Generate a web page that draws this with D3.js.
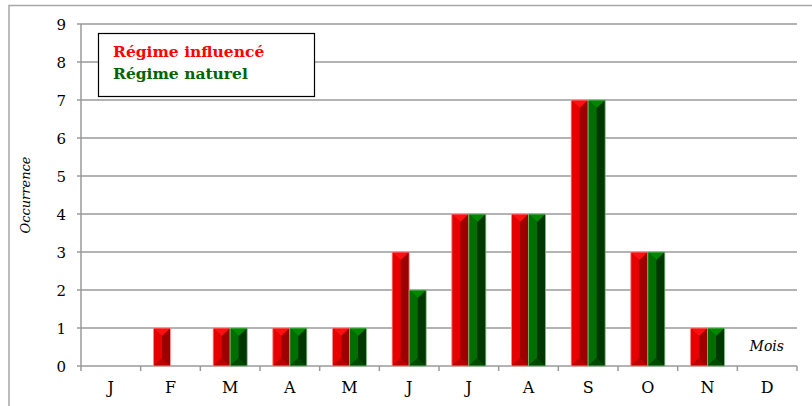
<!DOCTYPE html>
<html>
<head>
<meta charset="utf-8">
<script src="https://cdn.jsdelivr.net/npm/d3@7"></script>
<style>
  body { margin: 0; background: #fff; }
  text { font-family: "DejaVu Serif", "Liberation Serif", serif; }
</style>
</head>
<body>
<svg id="chart"></svg>
<script>
// Data
const months = ["J", "F", "M", "A", "M", "J", "J", "A", "S", "O", "N", "D"];
const influence = [0, 1, 1, 1, 1, 3, 4, 4, 7, 3, 1, 0];
const naturel = [0, 0, 1, 1, 1, 2, 4, 4, 7, 3, 1, 0];
const yTicks = [0, 1, 2, 3, 4, 5, 6, 7, 8, 9];
const seriesNames = ["Régime influencé", "Régime naturel"];

const width = 812;
const height = 406;
const margin = { top: 24, right: 15, bottom: 40, left: 81 };

const svg = d3.select("#chart").attr("width", width).attr("height", height);

// outer frame (only top and left are visible)
svg.append("path")
  .attr("d", `M9,${height} V5.5 H${width}`)
  .attr("fill", "none")
  .attr("stroke", "#a6a6a6")
  .attr("stroke-width", 1.5);

const x = d3.scaleBand()
  .domain(d3.range(months.length))
  .range([margin.left, width - margin.right]);

const y = d3.scaleLinear()
  .domain([0, 9])
  .range([height - margin.bottom, margin.top]);

const groupW = x.bandwidth() * 0.57;
const xs = d3.scaleBand()
  .domain([0, 1])
  .range([0, groupW]);

// gridlines
svg.append("g")
  .selectAll("line")
  .data(yTicks)
  .join("line")
  .attr("x1", margin.left - 4)
  .attr("x2", width - margin.right)
  .attr("y1", d => y(d))
  .attr("y2", d => y(d))
  .attr("stroke", "#9a9a9a")
  .attr("stroke-width", 1.5);

// y axis line
svg.append("line")
  .attr("x1", margin.left).attr("x2", margin.left)
  .attr("y1", y(9)).attr("y2", y(0))
  .attr("stroke", "#9a9a9a").attr("stroke-width", 1.5);

// y tick labels
svg.append("g")
  .selectAll("text")
  .data(yTicks)
  .join("text")
  .attr("x", margin.left - 15)
  .attr("y", d => y(d) + 5.5)
  .attr("text-anchor", "end")
  .attr("font-size", "15px")
  .attr("fill", "#000")
  .text(d => d);

// x ticks at category boundaries
const bounds = d3.range(months.length + 1).map(i => margin.left + i * x.step());
svg.append("g")
  .selectAll("line")
  .data(bounds)
  .join("line")
  .attr("x1", d => d).attr("x2", d => d)
  .attr("y1", y(0)).attr("y2", y(0) + 5)
  .attr("stroke", "#9a9a9a").attr("stroke-width", 1.5);

// x labels
svg.append("g")
  .selectAll("text")
  .data(months)
  .join("text")
  .attr("x", (d, i) => x(i) + x.bandwidth() / 2)
  .attr("y", y(0) + 27)
  .attr("text-anchor", "middle")
  .attr("font-size", "16px")
  .text(d => d);

// bevelled bars
const palettes = [
  { edge: "#ff9a9a", light: "#e60000", top: "#ff1010", dark: "#9c0000", bottom: "#b80000" },
  { edge: "#7fbf7f", light: "#006e00", top: "#008800", dark: "#003600", bottom: "#004a00" }
];

function drawBar(g, bx, by, bw, bh, p) {
  const t = Math.min(8, bh / 2);
  const mx = bx + bw * 0.5;
  g.append("rect").attr("x", bx).attr("y", by).attr("width", bw).attr("height", bh)
    .attr("fill", p.dark);
  g.append("polygon")
    .attr("points", [[bx, by], [mx, by + t], [mx, by + bh - t], [bx, by + bh]].join(" "))
    .attr("fill", p.light);
  g.append("polygon")
    .attr("points", [[bx, by], [bx + bw, by], [mx, by + t]].join(" "))
    .attr("fill", p.top);
  g.append("polygon")
    .attr("points", [[bx, by + bh], [bx + bw, by + bh], [mx, by + bh - t]].join(" "))
    .attr("fill", p.bottom);
  g.append("rect").attr("x", bx).attr("y", by).attr("width", bw).attr("height", bh)
    .attr("fill", "none").attr("stroke", p.edge).attr("stroke-width", 0.8);
}

const bars = svg.append("g");
[influence, naturel].forEach((series, s) => {
  series.forEach((v, i) => {
    if (v <= 0) return;
    const bx = x(i) + (x.bandwidth() - groupW) / 2 + xs(s);
    drawBar(bars, bx, y(v), xs.bandwidth(), y(0) - y(v), palettes[s]);
  });
});

// axis titles
svg.append("text")
  .attr("transform", `translate(30, ${(y(0) + y(9)) / 2}) rotate(-90)`)
  .attr("text-anchor", "middle")
  .attr("font-style", "italic")
  .attr("font-size", "13px")
  .text("Occurrence");

svg.append("text")
  .attr("x", 784)
  .attr("y", 351)
  .attr("text-anchor", "end")
  .attr("font-style", "italic")
  .attr("font-size", "14px")
  .text("Mois");

// legend box
const legend = svg.append("g").attr("id", "legend");
legend.append("rect")
  .attr("x", 98.5).attr("y", 33.5)
  .attr("width", 216).attr("height", 63)
  .attr("fill", "#fff")
  .attr("stroke", "#000")
  .attr("stroke-width", 1.2);

legend.selectAll("text")
  .data(seriesNames)
  .join("text")
  .attr("x", 113)
  .attr("y", (d, i) => 57 + i * 22)
  .attr("font-weight", "bold")
  .attr("font-size", "15.5px")
  .attr("fill", (d, i) => i === 0 ? "#ff0000" : "#006400")
  .text(d => d);
</script>
</body>
</html>
